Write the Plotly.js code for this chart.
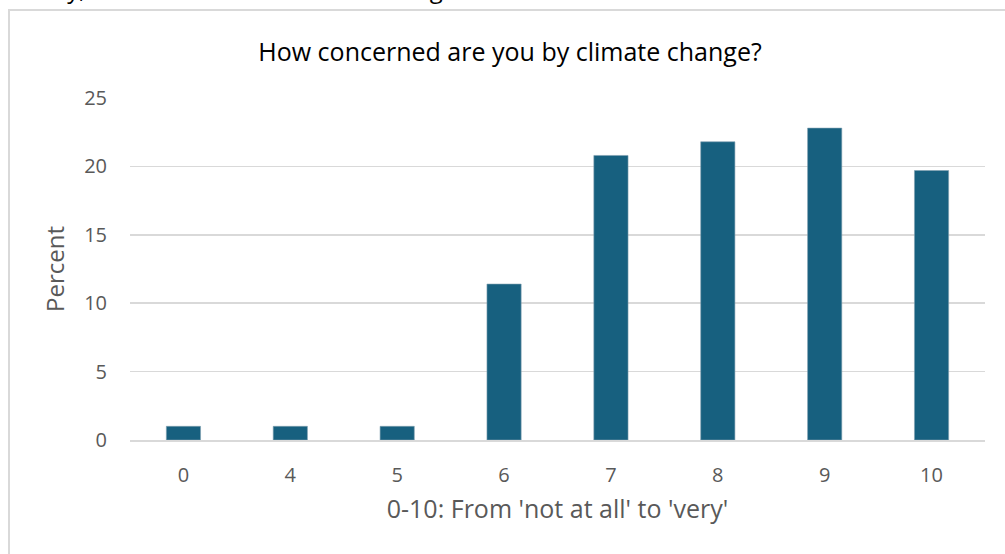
<!DOCTYPE html>
<html>
<head>
<meta charset="utf-8">
<script src="https://cdn.plot.ly/plotly-3.0.1.min.js"></script>
<style>
  html, body { margin: 0; padding: 0; background: #ffffff; }
  #wrap { position: relative; width: 1005px; height: 554px; overflow: hidden; }
  #chart { position: absolute; left: 0; top: 0; width: 1005px; height: 554px; }
  #frame { position: absolute; left: 8px; top: 9px; width: 1100px; height: 700px;
           border-left: 2px solid #d9d9d9; border-top: 2px solid #d9d9d9; pointer-events: none; }
</style>
</head>
<body>
<div id="wrap">
  <div id="chart"></div>
  <div id="frame"></div>
</div>
<script>
// Share of respondents at each point of the 0-10 concern scale
const categories = ['0', '4', '5', '6', '7', '8', '9', '10'];
const percentValues = [1.0, 1.0, 1.0, 11.4, 20.8, 21.8, 22.8, 19.7];
const yTickValues = [0, 5, 10, 15, 20, 25];

const chartTitle = 'How concerned are you by climate change?';
const xTitle = "0-10: From 'not at all' to 'very'";
const yTitle = 'Percent';
const captionAbove = 'Survey, concerned about climate change';

const FONT = '"Open Sans", "Noto Sans", sans-serif';

const trace = {
  type: 'bar',
  x: categories,
  y: percentValues,
  marker: { color: '#17607f', line: { color: '#7f9fb0', width: 0.6 } },
  hoverinfo: 'x+y'
};

const layout = {
  width: 1005,
  height: 554,
  paper_bgcolor: '#ffffff',
  plot_bgcolor: '#ffffff',
  margin: { l: 130, r: 20, t: 98, b: 114, pad: 0 },
  bargap: 0.68,
  showlegend: false,
  font: { family: FONT, color: '#595959' },
  title: {
    text: chartTitle,
    font: { family: FONT, size: 25, color: '#000000' },
    x: 510 / 1005, xanchor: 'center', xref: 'container',
    y: 1 - 52 / 554, yanchor: 'middle', yref: 'container'
  },
  xaxis: {
    type: 'category',
    tickfont: { family: FONT, size: 20, color: '#595959' },
    ticks: '', showgrid: false, zeroline: false,
    showline: true, linecolor: '#d9d9d9', linewidth: 1.5,
    ticklabelstandoff: 16,
    title: { text: xTitle, font: { family: FONT, size: 25, color: '#595959' }, standoff: 14 }
  },
  yaxis: {
    range: [0, 25],
    tickvals: yTickValues,
    tickfont: { family: FONT, size: 20, color: '#595959' },
    ticks: '', showline: false, zeroline: false,
    showgrid: true, gridcolor: '#d9d9d9', gridwidth: 1.5,
    ticklabelstandoff: 22,
    title: { text: yTitle, font: { family: FONT, size: 24, color: '#595959' }, standoff: 12 }
  },
  annotations: [{
    text: captionAbove,
    xref: 'paper', yref: 'paper',
    x: 0, xshift: -128, y: 1, yshift: 91,
    xanchor: 'left', yanchor: 'bottom',
    showarrow: false,
    font: { family: FONT, size: 24, color: '#000000' }
  }]
};

Plotly.newPlot('chart', [trace], layout, { displayModeBar: false, staticPlot: true });
</script>
</body>
</html>
